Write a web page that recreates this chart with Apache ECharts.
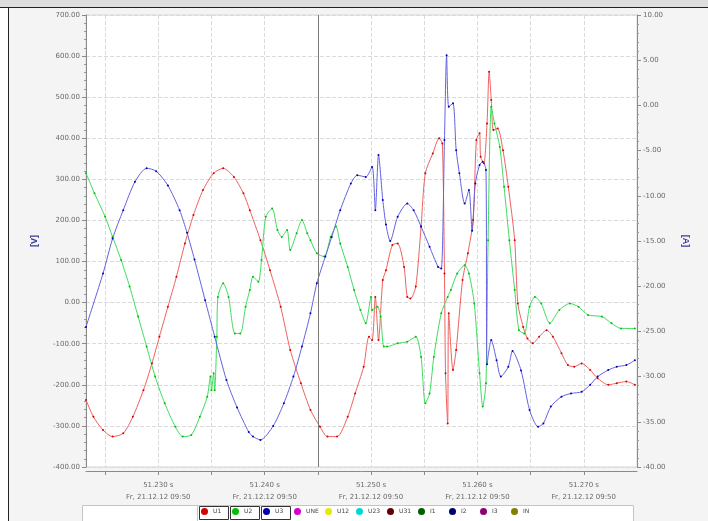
<!DOCTYPE html>
<html><head><meta charset="utf-8">
<script src="https://cdn.jsdelivr.net/npm/echarts@6/dist/echarts.min.js"></script>
<style>html,body{margin:0;padding:0;background:#fff}#c{width:708px;height:521px}</style>
</head><body><div id="c"></div>
<script>
// time in ms (51.2232 s ... 51.2750 s), voltage in V
const u1Time = [51223.2,51223.9,51224.8,51225.7,51226.7,51227.6,51228.6,51229.4,51230.1,51230.9,51231.7,51232.5,51233.3,51234.2,51235.2,51236.1,51237.1,51238.0,51238.6,51239.6,51240.5,51241.5,51242.4,51243.4,51244.3,51245.2,51245.9,51246.8,51247.8,51248.5,51249.3,51249.8,51250.1,51250.4,51250.7,51251.1,51251.4,51252.0,51252.5,51253.1,51253.4,51253.7,51254.2,51254.7,51255.1,51255.8,51256.4,51256.7,51256.9,51257.0,51257.2,51257.3,51257.7,51258.0,51258.6,51259.1,51259.6,51259.9,51260.2,51260.3,51260.6,51260.9,51261.1,51261.3,51261.5,51261.9,51262.4,51262.9,51263.5,51263.8,51264.3,51264.7,51265.2,51265.8,51266.5,51267.1,51267.9,51268.5,51269.1,51269.8,51270.6,51271.3,51272.3,51273.1,51274.0,51274.8];
const u1Volt = [-237,-278,-310,-326,-318,-278,-213,-148,-83,-10,63,144,213,274,315,327,306,266,225,152,79,-10,-115,-196,-261,-302,-326,-326,-278,-221,-156,-83,-91,14,-91,55,79,140,144,87,14,10,39,185,315,363,400,387,71,-172,-294,-26,-164,-115,55,120,201,396,412,355,339,436,562,493,420,424,371,282,152,-2,-59,-87,-99,-83,-67,-83,-123,-152,-156,-148,-164,-184,-200,-196,-192,-200];

const u2Time = [51223.2,51224.0,51225.0,51225.7,51226.5,51227.3,51228.1,51228.9,51229.7,51230.6,51231.6,51232.3,51233.1,51233.9,51234.6,51234.9,51235.0,51235.2,51235.3,51235.5,51235.6,51236.1,51236.6,51237.2,51237.7,51238.2,51238.6,51238.9,51239.4,51239.7,51240.1,51240.7,51241.2,51241.6,51242.1,51242.4,51243.0,51243.5,51244.0,51244.3,51244.9,51245.6,51246.2,51246.7,51247.1,51247.8,51248.4,51249.0,51249.5,51250.0,51250.1,51250.6,51250.9,51251.2,51251.5,51252.5,51253.4,51254.2,51254.7,51255.1,51255.5,51255.9,51256.6,51257.2,51257.5,51258.1,51258.8,51259.2,51259.7,51260.2,51260.5,51260.8,51261.0,51261.3,51261.6,51262.1,51262.5,51263.0,51263.5,51263.9,51264.4,51264.9,51265.4,51266.0,51266.8,51267.7,51268.7,51269.5,51270.4,51271.7,51272.6,51273.5,51274.8];
const u2Volt = [315,266,209,160,104,39,-34,-107,-180,-245,-302,-326,-322,-278,-229,-180,-213,-172,-213,-83,14,47,14,-75,-75,-10,31,63,51,104,209,229,177,160,177,128,169,201,169,152,120,112,160,185,144,87,31,-18,-50,14,-18,-10,-34,-107,-107,-99,-95,-83,-132,-245,-221,-132,-26,14,31,71,91,71,-2,-172,-253,-196,152,477,436,379,282,152,31,-67,-75,-10,14,-2,-50,-18,-2,-10,-30,-34,-50,-63,-63];

const u3Time = [51223.2,51224.8,51225.7,51226.7,51227.8,51228.9,51229.8,51230.9,51232.0,51232.7,51233.4,51234.4,51235.3,51236.4,51237.4,51238.5,51238.9,51239.6,51240.8,51241.8,51242.7,51243.5,51244.3,51244.9,51245.7,51246.3,51247.1,51248.1,51248.7,51249.5,51250.1,51250.4,51250.7,51251.1,51251.4,51251.8,51252.5,51253.4,51254.0,51254.7,51255.5,51256.3,51256.6,51256.9,51257.1,51257.3,51257.7,51258.0,51258.3,51258.8,51259.2,51259.5,51259.8,51260.2,51260.5,51260.8,51260.9,51261.3,51261.8,51262.2,51262.9,51263.3,51264.1,51264.9,51265.7,51266.2,51266.9,51267.9,51268.8,51269.8,51270.6,51271.3,51272.3,51273.1,51274.0,51274.8];
const u3Volt = [-59,71,156,225,294,327,320,285,225,170,105,6,-83,-188,-255,-315,-326,-334,-300,-245,-180,-107,-26,47,112,160,225,290,310,306,330,225,359,250,190,150,209,241,225,185,136,87,83,396,602,477,485,371,315,241,274,175,290,335,343,323,-150,-91,-140,-180,-156,-118,-165,-261,-302,-294,-253,-229,-221,-217,-200,-180,-164,-156,-152,-140];

const legendNames = ['U1','U2','U3','UNE','U12','U23','U31','I1','I2','I3','IN'];
const legendColors = ['#d40000','#00c000','#0000b0','#d000d0','#e8e800','#00d8d8','#600000','#006000','#000070','#900070','#808000'];
const lineColors = {U1:'#f06060', U2:'#40dc60', U3:'#6262e2'};
const cursorTime = 51245.0;
const dateText = 'Fr, 21.12.12 09:50';

const chart = echarts.init(document.getElementById('c'), null, {renderer:'canvas'});

const seriesData = {U1:[u1Time,u1Volt], U2:[u2Time,u2Volt], U3:[u3Time,u3Volt]};
const series = legendNames.map((n,i) => {
  const d = seriesData[n];
  const s = {
    name: n, type: 'line', xAxisIndex: 0, yAxisIndex: 0,
    data: d ? d[0].map((t,k) => [t, d[1][k]]) : [],
    showSymbol: true, symbol: 'circle', symbolSize: 2,
    smooth: 0.25,
    itemStyle: {color: legendColors[i]},
    lineStyle: {color: d ? lineColors[n] : legendColors[i], width: 1},
    animation: false, silent: true
  };
  if (n === 'U1') {
    s.markLine = {silent:true, symbol:['none','none'], label:{show:false},
      lineStyle:{color:'#7a7a7a', type:'solid', width:1},
      data:[{xAxis: cursorTime}], animation:false};
  }
  return s;
});

const axisLabelStyle = {fontSize: 7, color: '#6a6a6a', fontFamily: 'DejaVu Sans'};

const legends = legendNames.map((n,i) => ({
  data: [n], left: 201 + 31*i, top: 508, icon: 'circle',
  itemWidth: 7, itemHeight: 7, padding: 0, selectedMode: false,
  textStyle: {fontSize: 6, color: '#444', fontFamily: 'DejaVu Sans'}
}));

chart.setOption({
  backgroundColor: '#f4f4f4',
  animation: false,
  grid: {left: 86, right: 71, top: 15, bottom: 54, show: true, backgroundColor: '#ffffff', borderColor: '#d6d6d6', borderWidth: 1},
  xAxis: {
    type: 'value', min: 51223.2, max: 51275.0, splitNumber: 10, offset: 4,
    axisLine: {show: true, onZero: false, lineStyle: {color: '#8a8a8a'}},
    axisTick: {show: true, length: 4, lineStyle: {color: '#8a8a8a'}},
    splitLine: {show: true, lineStyle: {color: '#dadada', type: 'dashed'}},
    axisLabel: Object.assign({}, axisLabelStyle, {margin: 8, lineHeight: 12, showMinLabel: false, showMaxLabel: false,
      formatter: v => {
        const r = Math.round(v);
        if (Math.abs(v - r) > 0.01 || r % 10 !== 0) return '';
        return (r/1000).toFixed(3) + ' s\n' + dateText;
      }})
  },
  yAxis: [{
    type: 'value', min: -400, max: 700, interval: 100, position: 'left',
    name: '[V]', nameLocation: 'middle', nameGap: 47, nameRotate: 90,
    nameTextStyle: {color: '#3a3a9a', fontWeight: 'bold', fontSize: 9},
    axisLine: {show: true, onZero: false, lineStyle: {color: '#8a8a8a'}},
    axisTick: {show: true, length: 4, lineStyle: {color: '#8a8a8a'}},
    minorTick: {show: true, splitNumber: 5, length: 2, lineStyle: {color: '#9a9a9a'}},
    splitLine: {show: true, lineStyle: {color: '#dadada', type: 'dashed'}},
    axisLabel: Object.assign({}, axisLabelStyle, {margin: 6, formatter: v => v.toFixed(2)})
  },{
    type: 'value', min: -40, max: 10, interval: 5, position: 'right',
    name: '[A]', nameLocation: 'middle', nameGap: 44, nameRotate: -90,
    nameTextStyle: {color: '#3a3a9a', fontWeight: 'bold', fontSize: 9},
    axisLine: {show: true, onZero: false, lineStyle: {color: '#8a8a8a'}},
    axisTick: {show: true, length: 4, lineStyle: {color: '#8a8a8a'}},
    minorTick: {show: true, splitNumber: 5, length: 2, lineStyle: {color: '#9a9a9a'}},
    splitLine: {show: false},
    axisLabel: Object.assign({}, axisLabelStyle, {margin: 6, formatter: v => v.toFixed(2)})
  }],
  legend: legends,
  graphic: [
    {type: 'rect', z: -1, shape: {x: 0, y: 0, width: 708, height: 7}, style: {fill: '#dedede'}},
    {type: 'rect', z: -1, shape: {x: 0, y: 7, width: 8, height: 514}, style: {fill: '#ffffff'}},
    {type: 'line', shape: {x1: 0, y1: 7.5, x2: 708, y2: 7.5}, style: {stroke: '#222', lineWidth: 1}},
    {type: 'line', shape: {x1: 8.5, y1: 7, x2: 8.5, y2: 521}, style: {stroke: '#222', lineWidth: 1}},
    {type: 'rect', z: -1, shape: {x: 82.5, y: 505.5, width: 115, height: 16}, style: {fill: '#ffffff', stroke: '#c4c4c4'}},
    {type: 'rect', z: -1, shape: {x: 197.5, y: 505.5, width: 436, height: 16}, style: {fill: '#ffffff', stroke: '#c4c4c4'}},
    {type: 'rect', shape: {x: 199.5, y: 506.5, width: 29, height: 13}, style: {fill: 'none', stroke: '#333', lineWidth: 1}},
    {type: 'rect', shape: {x: 230.5, y: 506.5, width: 29, height: 13}, style: {fill: 'none', stroke: '#333', lineWidth: 1}},
    {type: 'rect', shape: {x: 261.5, y: 506.5, width: 29, height: 13}, style: {fill: 'none', stroke: '#333', lineWidth: 1}}
  ],
  series: series
});
</script></body></html>
